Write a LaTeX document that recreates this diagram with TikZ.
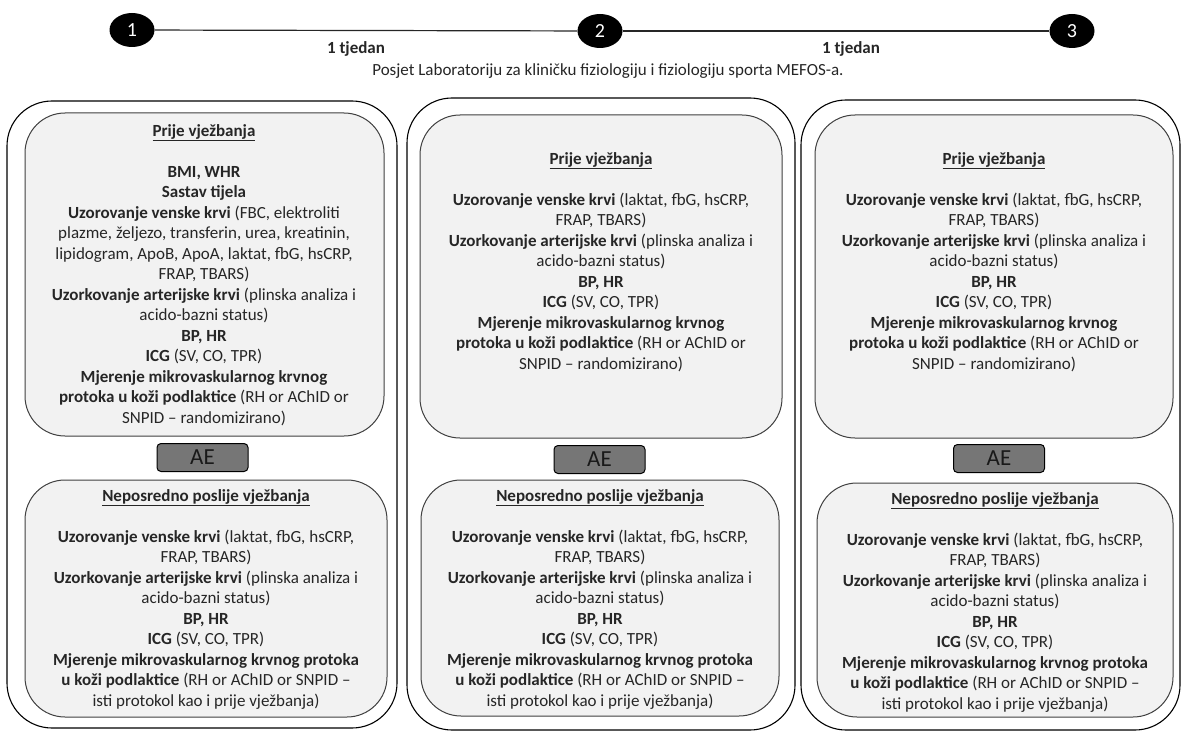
\documentclass[tikz,border=0pt]{standalone}
\usepackage{fontspec}
\setmainfont{Carlito}
\usetikzlibrary{shapes.geometric}
\definecolor{txt}{HTML}{262626}
\definecolor{innerfill}{HTML}{F2F2F2}
\definecolor{innerdraw}{HTML}{404040}
\definecolor{aegray}{HTML}{767676}
\tikzset{
  outerbox/.style={draw=black, line width=1.1pt, rounded corners=45pt, fill=white, inner sep=0pt},
  innerbox/.style={draw=innerdraw, fill=innerfill, line width=1pt, rounded corners=40pt, inner sep=0pt},
  aebox/.style={draw=black, fill=aegray, line width=1pt, rounded corners=4pt, minimum width=91pt, minimum height=28pt, inner sep=0pt, font=\fontsize{23}{25}\selectfont, text=black!90},
  numcircle/.style={ellipse, fill=black, minimum width=45pt, minimum height=34pt, inner sep=0pt, text=white, font=\fontsize{20}{22}\selectfont},
  bodytext/.style={align=center, inner sep=0pt, text=txt, font=\fontsize{17}{20.5}\selectfont},
  weeklabel/.style={inner sep=0pt, text=txt, font=\bfseries\fontsize{17}{19}\selectfont},
  timeline/.style={draw=black!85, line width=1.2pt}
}
\newcommand{\hd}[1]{\textbf{\underline{#1}}}
\begin{document}
\begin{tikzpicture}[x=1pt,y=-1pt]
\useasboundingbox (0,0) rectangle (1185,733);
% timeline
\node[numcircle] (n1) at (132,30) {1};
\node[numcircle] (n2) at (600,31) {2};
\node[numcircle] (n3) at (1072,31) {3};
\draw[timeline] (n1) -- (n2);
\draw[timeline] (n2) -- (n3);
\node[weeklabel] (w1) at (356,49) {1 tjedan};
\node[weeklabel] (w2) at (851,49) {1 tjedan};
\node[inner sep=0pt, text=txt, font=\fontsize{17}{19}\selectfont] (visit) at (608,71) {Posjet Laboratoriju za kliničku fiziologiju i fiziologiju sporta MEFOS-a.};
% outer boxes
\node[outerbox, minimum width=390pt, minimum height=627pt] (c1) at (202,414.5) {};
\node[outerbox, minimum width=388pt, minimum height=632pt] (c2) at (601,414) {};
\node[outerbox, minimum width=379pt, minimum height=630pt] (c3) at (990.5,415) {};
% inner boxes column 1
\node[innerbox, minimum width=359pt, minimum height=323pt] (p1) at (204.5,274.5) {};
\node[aebox] (ae1) at (202.5,457.5) {AE};
\node[innerbox, minimum width=362pt, minimum height=237pt] (q1) at (206,598.5) {};
% column 2
\node[innerbox, minimum width=362pt, minimum height=323pt] (p2) at (601,276.5) {};
\node[aebox] (ae2) at (599.5,459.5) {AE};
\node[innerbox, minimum width=358pt, minimum height=236pt] (q2) at (600,598) {};
% column 3
\node[innerbox, minimum width=358pt, minimum height=323pt] (p3) at (994,276.5) {};
\node[aebox] (ae3) at (999,458.5) {AE};
\node[innerbox, minimum width=356pt, minimum height=234pt] (q3) at (995,600) {};
% texts column 1
\node[bodytext, anchor=north] (tp1) at (204,124) {\hd{Prije vježbanja}\\[20.5pt]
\textbf{BMI, WHR}\\
\textbf{Sastav tijela}\\
\textbf{Uzorovanje venske krvi} (FBC, elektroliti\\
plazme, željezo, transferin, urea, kreatinin,\\
lipidogram, ApoB, ApoA, laktat, fbG, hsCRP,\\
FRAP, TBARS)\\
\textbf{Uzorkovanje arterijske krvi} (plinska analiza i\\
acido-bazni status)\\
\textbf{BP, HR}\\
\textbf{ICG} (SV, CO, TPR)\\
\textbf{Mjerenje mikrovaskularnog krvnog}\\
\textbf{protoka u koži podlaktice} (RH or AChID or\\
SNPID – randomizirano)};
\node[bodytext, anchor=north] (tq1) at (206,489) {\hd{Neposredno poslije vježbanja}\\[20.5pt]
\textbf{Uzorovanje venske krvi} (laktat, fbG, hsCRP,\\
FRAP, TBARS)\\
\textbf{Uzorkovanje arterijske krvi} (plinska analiza i\\
acido-bazni status)\\
\textbf{BP, HR}\\
\textbf{ICG} (SV, CO, TPR)\\
\textbf{Mjerenje mikrovaskularnog krvnog protoka}\\
\textbf{u koži podlaktice} (RH or AChID or SNPID –\\
isti protokol kao i prije vježbanja)};
% texts column 2
\node[bodytext, anchor=north] (tp2) at (601,152) {\hd{Prije vježbanja}\\[20.5pt]
\textbf{Uzorovanje venske krvi} (laktat, fbG, hsCRP,\\
FRAP, TBARS)\\
\textbf{Uzorkovanje arterijske krvi} (plinska analiza i\\
acido-bazni status)\\
\textbf{BP, HR}\\
\textbf{ICG} (SV, CO, TPR)\\
\textbf{Mjerenje mikrovaskularnog krvnog}\\
\textbf{protoka u koži podlaktice} (RH or AChID or\\
SNPID – randomizirano)};
\node[bodytext, anchor=north] (tq2) at (600,489) {\hd{Neposredno poslije vježbanja}\\[20.5pt]
\textbf{Uzorovanje venske krvi} (laktat, fbG, hsCRP,\\
FRAP, TBARS)\\
\textbf{Uzorkovanje arterijske krvi} (plinska analiza i\\
acido-bazni status)\\
\textbf{BP, HR}\\
\textbf{ICG} (SV, CO, TPR)\\
\textbf{Mjerenje mikrovaskularnog krvnog protoka}\\
\textbf{u koži podlaktice} (RH or AChID or SNPID –\\
isti protokol kao i prije vježbanja)};
% texts column 3
\node[bodytext, anchor=north] (tp3) at (994,152) {\hd{Prije vježbanja}\\[20.5pt]
\textbf{Uzorovanje venske krvi} (laktat, fbG, hsCRP,\\
FRAP, TBARS)\\
\textbf{Uzorkovanje arterijske krvi} (plinska analiza i\\
acido-bazni status)\\
\textbf{BP, HR}\\
\textbf{ICG} (SV, CO, TPR)\\
\textbf{Mjerenje mikrovaskularnog krvnog}\\
\textbf{protoka u koži podlaktice} (RH or AChID or\\
SNPID – randomizirano)};
\node[bodytext, anchor=north] (tq3) at (995,492) {\hd{Neposredno poslije vježbanja}\\[20.5pt]
\textbf{Uzorovanje venske krvi} (laktat, fbG, hsCRP,\\
FRAP, TBARS)\\
\textbf{Uzorkovanje arterijske krvi} (plinska analiza i\\
acido-bazni status)\\
\textbf{BP, HR}\\
\textbf{ICG} (SV, CO, TPR)\\
\textbf{Mjerenje mikrovaskularnog krvnog protoka}\\
\textbf{u koži podlaktice} (RH or AChID or SNPID –\\
isti protokol kao i prije vježbanja)};
\end{tikzpicture}
\end{document}
